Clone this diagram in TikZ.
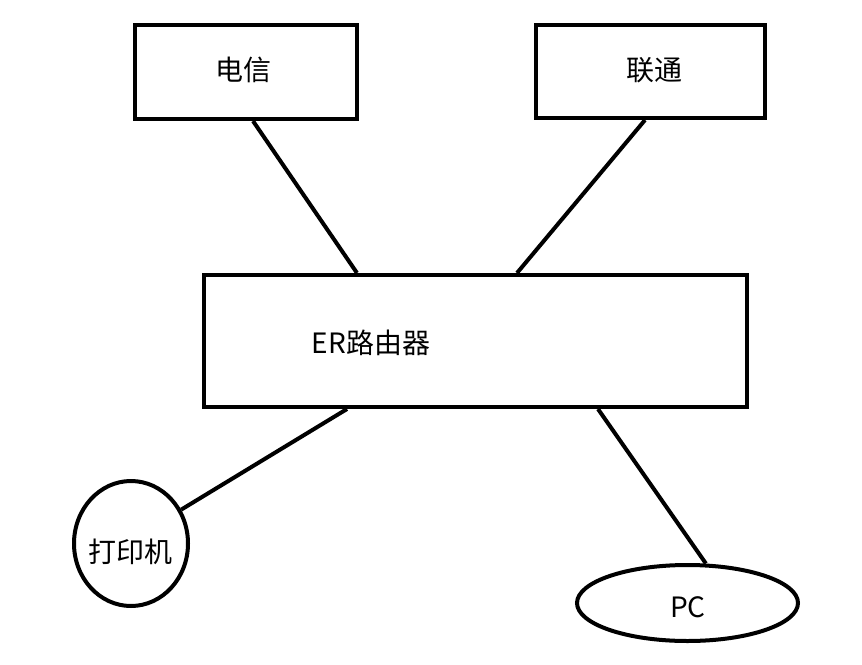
\documentclass[tikz,border=0pt]{standalone}
\usepackage{fontspec}
\setmainfont{Noto Sans CJK SC}
\usetikzlibrary{positioning, shapes.geometric}

\begin{document}
\begin{tikzpicture}[x=1pt, y=-1pt, line width=4pt,
  box/.style={draw, rectangle, inner sep=0pt},
  blob/.style={draw, ellipse, inner sep=0pt},
  tag/.style={inner sep=0pt}]
\useasboundingbox (0,0) rectangle (862,664);
\fontsize{28}{33}\selectfont
\node [box, minimum width=222pt, minimum height=94pt] (dianxin) at (246,72) {};
\node [tag] (dianxintag) at (243,70) {电信};
\node [box, minimum width=229pt, minimum height=93pt] (liantong) at (650.5,71.5) {};
\node [tag] (liantongtag) at (654.5,70) {联通};
\node [box, minimum width=543pt, minimum height=132pt] (router) at (475.5,341) {};
\node [tag] (routertag) at (371,343) {ER路由器};
\node [blob, minimum width=114pt, minimum height=125pt] (printer) at (131,543.5) {};
\node [tag] (printertag) at (130,552) {打印机};
\node [blob, minimum width=221pt, minimum height=76pt] (pc) at (687.5,603) {};
\node [tag] (pctag) at (688,607) {PC};
\draw ([xshift=7pt]dianxin.south) -- ([xshift=-118.5pt]router.north);
\draw ([xshift=-5.5pt]liantong.south) -- ([xshift=41.5pt]router.north);
\draw ([xshift=-128.5pt]router.south) -- (printer.34);
\draw ([xshift=122.5pt]router.south) -- (pc.65);
\end{tikzpicture}
\end{document}
